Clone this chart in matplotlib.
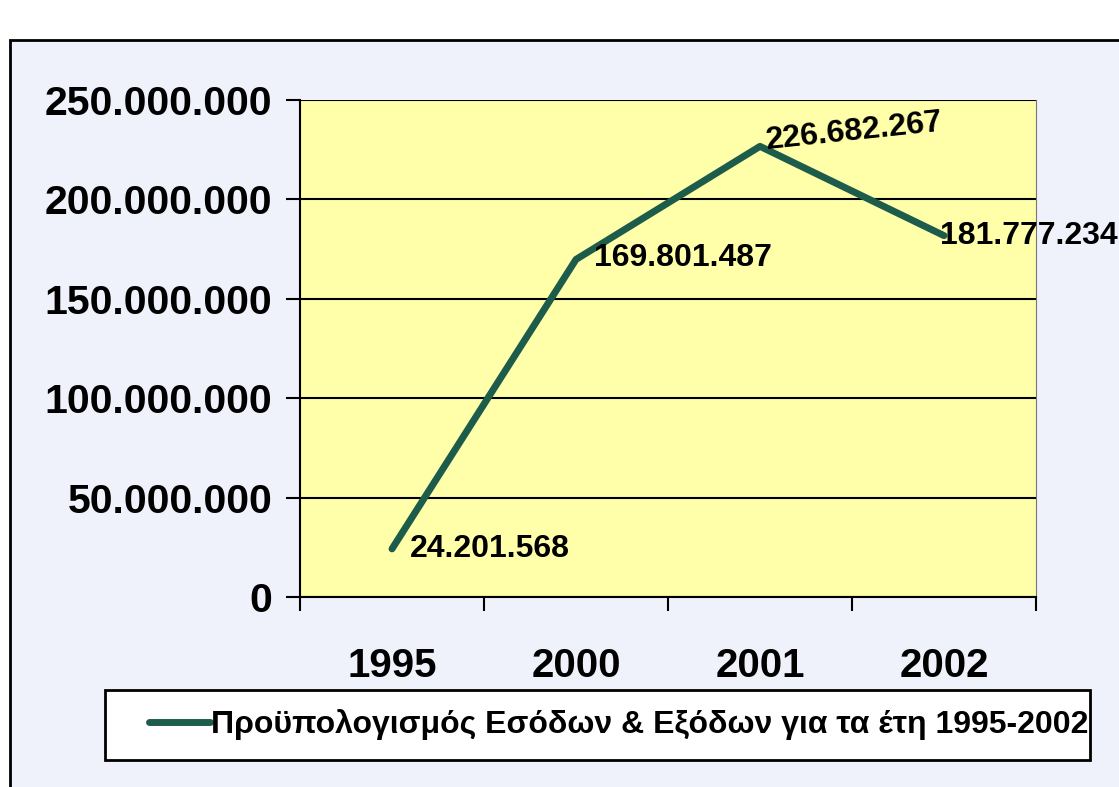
import matplotlib.pyplot as plt
from matplotlib.patches import Rectangle
from matplotlib.ticker import FuncFormatter

years = ['1995', '2000', '2001', '2002']
budget = [24201568, 169801487, 226682267, 181777234]
value_labels = ['24.201.568', '169.801.487', '226.682.267', '181.777.234']
series_name = 'Προϋπολογισμός Εσόδων & Εξόδων για τα έτη 1995-2002'
yticks = [0, 50000000, 100000000, 150000000, 200000000, 250000000]

plt.rcParams['font.family'] = ['Liberation Sans', 'DejaVu Sans']
plt.rcParams['font.weight'] = 'bold'

fig = plt.figure(figsize=(11.19, 7.87), dpi=100)
fig.patch.set_facecolor('white')

# outer chart frame (left and top edges visible, rest runs off the page)
frame = Rectangle((10/1119, -0.05), 1.2, 1 - 40/787 + 0.05, transform=fig.transFigure,
                  facecolor='#eff1fb', edgecolor='black', linewidth=2, zorder=-5)
fig.patches.append(frame)

ax = fig.add_axes([300/1119, 190/787, 736/1119, 497/787])
ax.set_facecolor('#ffffaa')

x = range(len(years))
ax.plot(x, budget, color='#1d5c4a', linewidth=5, solid_capstyle='round', zorder=3)

# data labels
offsets = [(13, 0), (13, 1), (4, 4), (-3, 0)]
rots = [0, 0, 6, 0]
for i, (v, lab) in enumerate(zip(budget, value_labels)):
    ax.annotate(lab, (i, v), xytext=offsets[i], textcoords='offset points',
                ha='left', va='center', fontsize=23, fontweight='bold', zorder=4,
                rotation=rots[i], rotation_mode='anchor', annotation_clip=False)

ax.set_xlim(-0.5, 3.5)
ax.set_ylim(0, 250000000)
ax.set_yticks(yticks)
ax.yaxis.set_major_formatter(FuncFormatter(lambda v, p: f'{v:,.0f}'.replace(',', '.')))
ax.grid(axis='y', color='black', linewidth=1.5)
ax.set_axisbelow(True)

ax.set_xticks([-0.5, 0.5, 1.5, 2.5, 3.5])
ax.set_xticklabels([])
ax.set_xticks(list(x), minor=True)
ax.set_xticklabels(years, minor=True)
ax.tick_params(axis='x', which='minor', length=0, labelsize=29, pad=36)
ax.tick_params(axis='x', which='major', length=10, width=1.5, direction='out')
ax.tick_params(axis='y', length=10, width=1.5, labelsize=29.5, pad=10)
for lab in ax.get_yticklabels() + ax.get_xticklabels(minor=True):
    lab.set_fontweight('bold')

for s in ['left', 'bottom']:
    ax.spines[s].set_linewidth(1.5)
ax.spines['top'].set_visible(False)
ax.spines['right'].set_color('#777777')

# legend box
box = Rectangle((105/1119, 27/787), 985/1119, 70/787, transform=fig.transFigure,
                facecolor='white', edgecolor='black', linewidth=2, zorder=1)
fig.patches.append(box)
leg = fig.legend([ax.lines[0]], [series_name], loc='center left',
                 bbox_to_anchor=(149/1119, 62/787), borderaxespad=0, borderpad=0,
                 prop={'size': 23, 'weight': 'bold'}, frameon=False,
                 handlelength=1.9, handletextpad=0.05)
leg.set_zorder(2)

fig.savefig('out.png', dpi=100)
